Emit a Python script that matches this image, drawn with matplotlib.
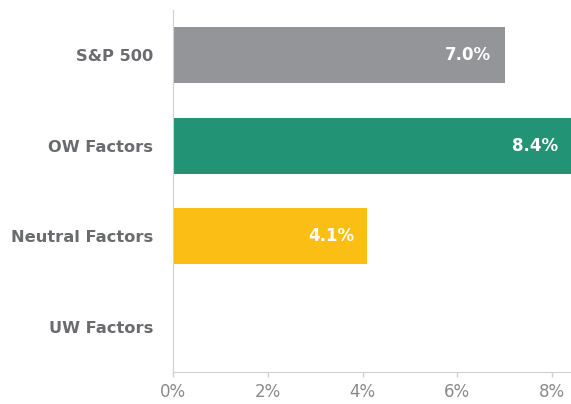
import matplotlib
matplotlib.use("Agg")
import matplotlib.pyplot as plt
from matplotlib.ticker import FuncFormatter

# data
categories = ["S&P 500", "OW Factors", "Neutral Factors", "UW Factors"]
values = [7.0, 8.4, 4.1, 0.0]
colors = ["#939598", "#239375", "#fbbe15", "#ffffff"]
xticks = [0, 2, 4, 6, 8]

plt.rcParams['font.family'] = ['DejaVu Sans']

fig = plt.figure(figsize=(5.71, 4.04), dpi=100)
ax = fig.add_axes([0.303, 0.079, 0.697, 0.896])

y = range(len(categories))
ax.barh(y, values, height=0.62, color=colors)

for i, v in enumerate(values):
    if v > 0:
        ax.annotate("%.1f%%" % v, xy=(v, i), xytext=(-9.5, 0), textcoords="offset points",
                    ha="right", va="center", color="white", fontsize=12, fontweight="bold")

ax.set_ylim(3.5, -0.5)
ax.set_xlim(0, 8.4)
ax.set_yticks(list(y))
ax.set_yticklabels(categories, fontsize=11.7, fontweight="bold", color="#6a6b6e")
ax.set_xticks(xticks)
ax.xaxis.set_major_formatter(FuncFormatter(lambda v, p: "%d%%" % v))
ax.tick_params(axis="x", colors="#d0d0d0", labelcolor="#8a8a8a", labelsize=12, length=3.6, width=1, pad=4)
ax.tick_params(axis="y", length=0, pad=14.4)

for s in ["top", "right"]:
    ax.spines[s].set_visible(False)
for s in ["left", "bottom"]:
    ax.spines[s].set_color("#d0d0d0")

fig.savefig("out.png", dpi=100)
